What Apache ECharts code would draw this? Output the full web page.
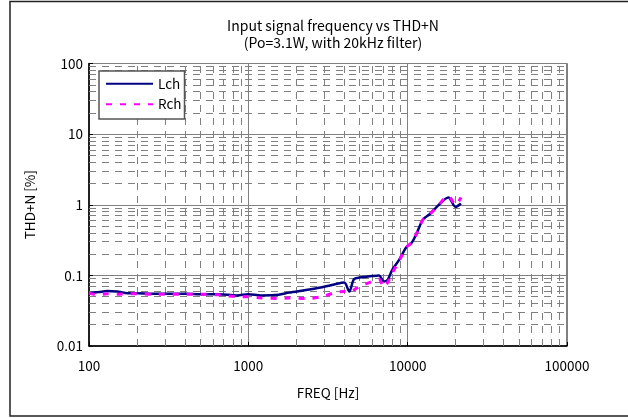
<!DOCTYPE html>
<html>
<head>
<meta charset="utf-8">
<script src="https://cdn.jsdelivr.net/npm/echarts@6/dist/echarts.min.js"></script>
<style>
    html, body { margin: 0; padding: 0; background: #fff; }
    #chart { width: 628px; height: 418px; }
</style>
</head>
<body>
<div id="chart"></div>
<script>
// frequencies [Hz]
var freq = [100, 115, 130, 150, 175, 200, 250, 300, 400, 500, 650, 850, 1000, 1200, 1550, 1800, 2300, 2900,
    3600, 4000, 4300, 4600, 5000, 6000, 6600, 7100, 7500, 8000, 8900, 9800, 10600, 11300, 12500, 13800,
    15500, 18000, 20000, 21600];
// THD+N [%]
var lch = [0.056, 0.058, 0.060, 0.059, 0.056, 0.056, 0.055, 0.055, 0.055, 0.054, 0.054, 0.052, 0.054, 0.052,
    0.053, 0.057, 0.062, 0.068, 0.076, 0.079, 0.059, 0.088, 0.093, 0.098, 0.100, 0.082, 0.087, 0.120, 0.170,
    0.250, 0.290, 0.380, 0.620, 0.740, 0.970, 1.270, 0.930, 1.040];
var rch = [0.056, 0.053, 0.055, 0.054, 0.055, 0.055, 0.054, 0.054, 0.054, 0.054, 0.053, 0.050, 0.050, 0.048,
    0.047, 0.048, 0.047, 0.050, 0.058, 0.059, 0.057, 0.062, 0.070, 0.082, 0.088, 0.068, 0.080, 0.107, 0.165,
    0.250, 0.290, 0.380, 0.620, 0.740, 0.970, 1.330, 1.000, 1.270];
var xMinor = [200, 300, 400, 500, 600, 700, 800, 900, 2000, 3000, 4000, 5000, 6000, 7000, 8000, 9000,
    20000, 30000, 40000, 50000, 60000, 70000, 80000, 90000];
var yMinor = [0.02, 0.03, 0.04, 0.05, 0.06, 0.07, 0.08, 0.09, 0.2, 0.3, 0.4, 0.5, 0.6, 0.7, 0.8, 0.9,
    2, 3, 4, 5, 6, 7, 8, 9, 20, 30, 40, 50, 60, 70, 80, 90];

var FONT = '"Noto Sans CJK JP", "Noto Sans", sans-serif';
var FS = 13.5;

function pairs(xs, ys) {
    var out = [];
    for (var i = 0; i < xs.length; i++) {
        out.push([xs[i], ys[i]]);
    }
    return out;
}

function fmt(v) {
    return String(+(+v).toPrecision(6));
}

var minorLines = [];
xMinor.forEach(function (v) { minorLines.push({xAxis: v}); });
yMinor.forEach(function (v) { minorLines.push({yAxis: v}); });

var myChart = echarts.init(document.getElementById('chart'), null, {renderer: 'canvas'});
var option = {
    animation: false,
    backgroundColor: '#fff',
    textStyle: {fontFamily: FONT},
    title: {
        text: 'Input signal frequency vs THD+N\n(Po=3.1W, with 20kHz filter)',
        left: 328,
        top: 12,
        textAlign: 'center',
        textStyle: {fontSize: 14, fontWeight: 'normal', color: '#000', lineHeight: 17, fontFamily: FONT}
    },
    graphic: [{
        type: 'rect',
        shape: {x: 10, y: 1.5, width: 640, height: 414.5},
        style: {fill: null, stroke: '#222', lineWidth: 1.5},
        silent: true
    }],
    legend: {
        orient: 'vertical',
        left: 99,
        top: 71,
        padding: [6, 3, 8, 6],
        itemWidth: 47,
        itemHeight: 14,
        itemGap: 7,
        backgroundColor: '#fff',
        borderColor: '#555',
        borderWidth: 1.5,
        itemStyle: {opacity: 0},
        textStyle: {fontSize: FS, color: '#000', fontFamily: FONT},
        data: ['Lch', 'Rch']
    },
    grid: {
        left: 89,
        right: 61,
        top: 63.5,
        bottom: 72,
        show: true,
        borderColor: '#000',
        borderWidth: 1
    },
    xAxis: {
        type: 'log',
        logBase: 10,
        min: 100,
        max: 100000,
        name: 'FREQ [Hz]',
        nameLocation: 'middle',
        nameGap: 40,
        nameTextStyle: {fontSize: FS, color: '#000'},
        axisLine: {lineStyle: {color: '#000', width: 1.5}},
        axisTick: {show: true, inside: true, length: 4, lineStyle: {color: '#000'}},
        axisLabel: {margin: 13, fontSize: FS, color: '#000', formatter: fmt},
        splitLine: {show: true, lineStyle: {color: '#808080', width: 1}}
    },
    yAxis: {
        type: 'log',
        logBase: 10,
        min: 0.01,
        max: 100,
        name: 'THD+N [%]',
        nameLocation: 'middle',
        nameGap: 52,
        nameRotate: 90,
        nameTextStyle: {fontSize: FS, color: '#000'},
        axisLine: {lineStyle: {color: '#000', width: 1.5}},
        axisTick: {show: true, inside: true, length: 4, lineStyle: {color: '#000'}},
        axisLabel: {margin: 6, fontSize: FS, color: '#000', formatter: fmt},
        splitLine: {show: true, lineStyle: {color: '#808080', width: 1}}
    },
    series: [{
        name: 'grid-minor',
        type: 'line',
        data: [],
        z: 1,
        silent: true,
        markLine: {
            silent: true,
            z: 1,
            symbol: ['none', 'none'],
            label: {show: false},
            lineStyle: {color: '#808080', width: 1, type: [7, 6]},
            emphasis: {disabled: true},
            data: minorLines
        }
    }, {
        name: 'Lch',
        type: 'line',
        data: pairs(freq, lch),
        showSymbol: false,
        symbol: 'none',
        smooth: 0.3,
        z: 3,
        color: '#000080',
        lineStyle: {color: '#000080', width: 2.5}
    }, {
        name: 'Rch',
        type: 'line',
        data: pairs(freq, rch),
        showSymbol: false,
        symbol: 'none',
        smooth: 0.3,
        z: 4,
        color: '#ff00ff',
        lineStyle: {color: '#ff00ff', width: 3, type: [6, 8]}
    }]
};
myChart.setOption(option);
</script>
</body>
</html>
